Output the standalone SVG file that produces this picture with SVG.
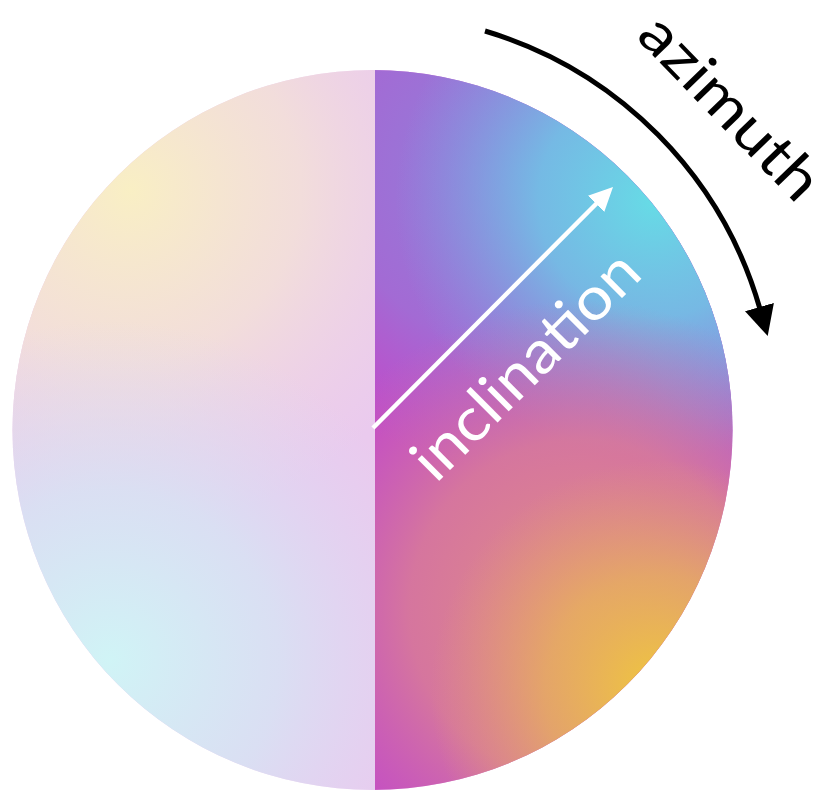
<svg xmlns="http://www.w3.org/2000/svg" width="825" height="790" viewBox="0 0 825 790">
  <defs>
    <clipPath id="clipR"><path d="M375,60 L740,60 L740,790 L375,790 Z"/></clipPath>
    <clipPath id="clipL"><path d="M0,60 L375,60 L375,790 L0,790 Z"/></clipPath>
    <clipPath id="disc"><circle cx="372.5" cy="430" r="360"/></clipPath>
    <radialGradient id="gBlue" gradientUnits="userSpaceOnUse" cx="520" cy="170" r="300">
      <stop offset="0" stop-color="#8a86dc" stop-opacity="0.95"/>
      <stop offset="0.6" stop-color="#8e80dc" stop-opacity="0.6"/>
      <stop offset="1" stop-color="#9a70d8" stop-opacity="0"/>
    </radialGradient>
    <radialGradient id="gViolet" gradientUnits="userSpaceOnUse" cx="730" cy="345" r="150">
      <stop offset="0" stop-color="#8c88de" stop-opacity="1"/>
      <stop offset="0.5" stop-color="#9878d8" stop-opacity="0.75"/>
      <stop offset="1" stop-color="#a868d0" stop-opacity="0"/>
    </radialGradient>
    <radialGradient id="gCyan" gradientUnits="userSpaceOnUse" cx="655" cy="200" r="260">
      <stop offset="0" stop-color="#66dce6" stop-opacity="1"/>
      <stop offset="0.45" stop-color="#70c4e6" stop-opacity="0.85"/>
      <stop offset="1" stop-color="#80a0e2" stop-opacity="0"/>
    </radialGradient>
    <radialGradient id="gSalmon" gradientUnits="userSpaceOnUse" cx="580" cy="610" r="310">
      <stop offset="0" stop-color="#e2927e" stop-opacity="0.95"/>
      <stop offset="0.55" stop-color="#dc8490" stop-opacity="0.75"/>
      <stop offset="1" stop-color="#d070a8" stop-opacity="0"/>
    </radialGradient>
    <radialGradient id="gYellow" gradientUnits="userSpaceOnUse" cx="660" cy="690" r="230">
      <stop offset="0" stop-color="#f0c83c" stop-opacity="1"/>
      <stop offset="0.5" stop-color="#e8b458" stop-opacity="0.7"/>
      <stop offset="1" stop-color="#e4a070" stop-opacity="0"/>
    </radialGradient>
    <radialGradient id="gPYellow" gradientUnits="userSpaceOnUse" cx="130" cy="190" r="340">
      <stop offset="0" stop-color="#f9efc4" stop-opacity="1"/>
      <stop offset="0.5" stop-color="#f4e2d6" stop-opacity="0.8"/>
      <stop offset="1" stop-color="#f0d6e2" stop-opacity="0"/>
    </radialGradient>
    <radialGradient id="gPCyan" gradientUnits="userSpaceOnUse" cx="110" cy="660" r="340">
      <stop offset="0" stop-color="#d0f4f6" stop-opacity="1"/>
      <stop offset="0.5" stop-color="#d6e4f4" stop-opacity="0.8"/>
      <stop offset="1" stop-color="#dcd8f4" stop-opacity="0"/>
    </radialGradient>
    <radialGradient id="gPPink" gradientUnits="userSpaceOnUse" cx="40" cy="300" r="200">
      <stop offset="0" stop-color="#f1d6e2" stop-opacity="0.85"/>
      <stop offset="1" stop-color="#f1d6e2" stop-opacity="0"/>
    </radialGradient>
    <marker id="headW" markerUnits="userSpaceOnUse" markerWidth="28" markerHeight="28" viewBox="0 -14 28 28" refX="2" refY="0" orient="auto">
      <path d="M0,-11.5 L24,0 L0,11.5 Z" fill="#ffffff"/>
    </marker>
    <marker id="headK" markerUnits="userSpaceOnUse" markerWidth="34" markerHeight="34" viewBox="0 -17 34 34" refX="2" refY="0" orient="auto">
      <path d="M0,-15 L30,0 L0,15 Z" fill="#000000"/>
    </marker>
  </defs>
  <style>
    .lbl { font-family: "Lato", "Open Sans", "Liberation Sans", sans-serif; font-size: 60px; }
    .az { font-size: 58px; }
  </style>
  <rect width="825" height="790" fill="#ffffff"/>

  <g id="sphere" clip-path="url(#disc)">
    <g id="left-half" clip-path="url(#clipL)">
      <rect x="0" y="60" width="380" height="730" fill="#eacaee"/>
      <rect x="0" y="60" width="380" height="730" fill="url(#gPPink)"/>
      <rect x="0" y="60" width="380" height="730" fill="url(#gPYellow)"/>
      <rect x="0" y="60" width="380" height="730" fill="url(#gPCyan)"/>
    </g>
    <g id="right-half" clip-path="url(#clipR)">
      <rect x="370" y="60" width="380" height="730" fill="#c24ac8"/>
      <rect x="370" y="60" width="380" height="730" fill="url(#gBlue)"/>
      <rect x="370" y="60" width="380" height="730" fill="url(#gViolet)"/>
      <rect x="370" y="60" width="380" height="730" fill="url(#gCyan)"/>
      <rect x="370" y="60" width="380" height="730" fill="url(#gSalmon)"/>
      <rect x="370" y="60" width="380" height="730" fill="url(#gYellow)"/>
    </g>
  </g>

  <g id="connectors">
    <path id="inclination-arrow" d="M373,428 L597.5,202.5" fill="none" stroke="#ffffff" stroke-width="4.5" marker-end="url(#headW)"/>
    <path id="azimuth-arrow" d="M485,31 A407,407 0 0 1 760,309" fill="none" stroke="#000000" stroke-width="5" marker-end="url(#headK)"/>
  </g>

  <g id="label-inclination">
    <text class="lbl" x="0" y="0" text-anchor="middle" fill="#ffffff" textLength="295" lengthAdjust="spacingAndGlyphs" transform="translate(540,380) rotate(-45)">inclination</text>
  </g>
  <g id="label-azimuth">
    <text class="lbl az" x="0" y="0" text-anchor="middle" fill="#000000" textLength="233" lengthAdjust="spacingAndGlyphs" transform="translate(716,121) rotate(46)">azimuth</text>
  </g>
</svg>
